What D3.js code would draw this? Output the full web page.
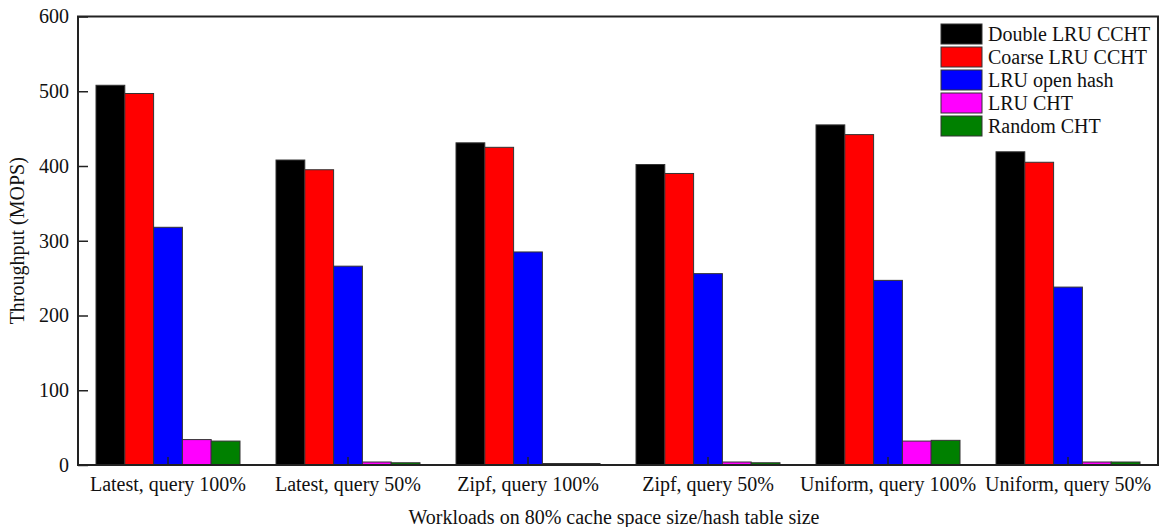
<!DOCTYPE html>
<html>
<head>
<meta charset="utf-8">
<script src="https://cdn.jsdelivr.net/npm/d3@7"></script>
<style>
  html, body { margin: 0; padding: 0; background: #fff; }
  svg { display: block; }
  text { font-family: "Liberation Serif", "Times New Roman", serif; fill: #111; }
</style>
</head>
<body>
<svg id="chart" width="1166" height="527"></svg>
<script>
// Workload categories along the x axis
const categories = [
  "Latest, query 100%", "Latest, query 50%", "Zipf, query 100%",
  "Zipf, query 50%", "Uniform, query 100%", "Uniform, query 50%"
];

// Series names and colours
const seriesNames = ["Double LRU CCHT", "Coarse LRU CCHT", "LRU open hash", "LRU CHT", "Random CHT"];
const seriesColors = ["#000000", "#ff0000", "#0000ff", "#ff00ff", "#008000"];

// Throughput (MOPS) per series, one value per workload
const doubleLRU = [508, 408, 431, 402, 455, 419];
const coarseLRU = [497, 395, 425, 390, 442, 405];
const lruOpenHash = [318, 266, 285, 256, 247, 238];
const lruCHT = [34, 4, 2, 4, 32, 4];
const randomCHT = [32, 3, 2, 3, 33, 4];

const yTicks = [0, 100, 200, 300, 400, 500, 600];

const seriesValues = [doubleLRU, coarseLRU, lruOpenHash, lruCHT, randomCHT];

const svg = d3.select("#chart");
const plotLeft = 78, plotRight = 1158, plotTop = 16.5, plotBottom = 465;
const fontSize = "20px";

const x0 = d3.scaleBand().domain(categories).range([plotLeft, plotRight])
  .paddingInner(0.2).paddingOuter(0.1);
const x1 = d3.scaleBand().domain(seriesNames).range([0, x0.bandwidth()]);
const y = d3.scaleLinear().domain([0, 600]).range([plotBottom, plotTop]);

// Bars
const groups = svg.append("g").selectAll("g")
  .data(categories)
  .join("g")
  .attr("transform", d => `translate(${x0(d)},0)`);

groups.selectAll("rect")
  .data((c, i) => seriesNames.map((s, k) => ({ s, k, v: seriesValues[k][i] })))
  .join("rect")
  .attr("x", d => x1(d.s))
  .attr("width", x1.bandwidth())
  .attr("y", d => y(d.v))
  .attr("height", d => y(0) - y(d.v))
  .attr("fill", d => seriesColors[d.k])
  .attr("stroke", "#333")
  .attr("stroke-width", 1);

// Frame
svg.append("rect")
  .attr("x", plotLeft).attr("y", plotTop)
  .attr("width", plotRight - plotLeft).attr("height", plotBottom - plotTop)
  .attr("fill", "none").attr("stroke", "#222").attr("stroke-width", 2);

// Y axis (ticks pointing inward)
const yAxis = svg.append("g")
  .attr("transform", `translate(${plotLeft},0)`)
  .call(d3.axisLeft(y).tickValues(yTicks).tickSizeInner(-10).tickSizeOuter(0).tickPadding(9));
yAxis.select(".domain").remove();
yAxis.selectAll("line").attr("stroke", "#222").attr("stroke-width", 1.5);
yAxis.selectAll("text")
  .style("font-family", "'Liberation Serif', serif")
  .style("font-size", fontSize).attr("fill", "#111");

// X axis (ticks pointing inward at group centres)
const xAxis = svg.append("g")
  .attr("transform", `translate(0,${plotBottom})`)
  .call(d3.axisBottom(x0).tickSizeInner(-8).tickSizeOuter(0).tickPadding(12));
xAxis.select(".domain").remove();
xAxis.selectAll("line").attr("stroke", "#222").attr("stroke-width", 1.5);
xAxis.selectAll("text")
  .style("font-family", "'Liberation Serif', serif")
  .style("font-size", fontSize).attr("fill", "#111");

// Axis titles
svg.append("text")
  .attr("transform", `translate(24,${(plotTop + plotBottom) / 2}) rotate(-90)`)
  .attr("text-anchor", "middle")
  .style("font-size", fontSize)
  .text("Throughput (MOPS)");

svg.append("text")
  .attr("x", (plotLeft + plotRight) / 2 - 4)
  .attr("y", 524)
  .attr("text-anchor", "middle")
  .style("font-size", fontSize)
  .text("Workloads on 80% cache space size/hash table size");

// Legend
const legend = svg.append("g").attr("transform", "translate(941,24)");
const item = legend.selectAll("g")
  .data(seriesNames)
  .join("g")
  .attr("transform", (d, i) => `translate(0,${i * 23})`);
item.append("rect")
  .attr("width", 41).attr("height", 20)
  .attr("fill", (d, i) => seriesColors[i])
  .attr("stroke", "#333").attr("stroke-width", 1);
item.append("text")
  .attr("x", 47).attr("y", 17)
  .style("font-size", fontSize)
  .text(d => d);
</script>
</body>
</html>
